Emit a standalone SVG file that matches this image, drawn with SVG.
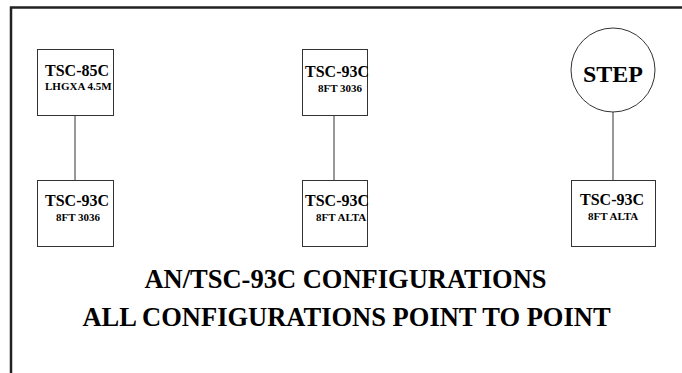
<svg xmlns="http://www.w3.org/2000/svg" width="682" height="373" viewBox="0 0 682 373">
<style>
.box{fill:#fff;stroke:#333;stroke-width:1}
</style>
<rect width="682" height="373" fill="#fff"/>
<path d="M11 373 V7.5 H682" fill="none" stroke="#222" stroke-width="2.5"/>
<g id="connectors" stroke="#333" stroke-width="1">
<line x1="75" y1="116" x2="75" y2="180"/>
<line x1="334" y1="116" x2="334" y2="180"/>
<line x1="613" y1="112" x2="613" y2="180"/>
</g>
<g font-family="Liberation Serif" font-weight="bold" fill="#000">
<g id="n1"><rect class="box" x="37.5" y="49.5" width="76" height="66"/><text font-size="16" x="45" y="76">TSC-85C</text><text font-size="11" x="45" y="90">LHGXA 4.5M</text></g>
<g id="n2"><rect class="box" x="37.5" y="180.5" width="76" height="66"/><text font-size="16" x="45" y="206">TSC-93C</text><text font-size="11" x="56" y="221">8FT 3036</text></g>
<g id="n3"><rect class="box" x="302.5" y="49.5" width="65" height="66"/><text font-size="16" x="305" y="77">TSC-93C</text><text font-size="11" x="318" y="92">8FT 3036</text></g>
<g id="n4"><rect class="box" x="302.5" y="180.5" width="65" height="66"/><text font-size="16" x="305" y="206">TSC-93C</text><text font-size="11" x="316" y="221">8FT ALTA</text></g>
<g id="n5"><circle class="box" cx="613" cy="70" r="42"/><text font-size="24" x="613" y="82" text-anchor="middle">STEP</text></g>
<g id="n6"><rect class="box" x="571.5" y="180.5" width="84" height="66"/><text font-size="16" x="580" y="205">TSC-93C</text><text font-size="11" x="588" y="220">8FT ALTA</text></g>
<g id="titles" font-size="26.5" text-anchor="middle">
<text x="345.5" y="288">AN/TSC-93C CONFIGURATIONS</text>
<text x="346.5" y="326">ALL CONFIGURATIONS POINT TO POINT</text>
</g>
</g>
</svg>
